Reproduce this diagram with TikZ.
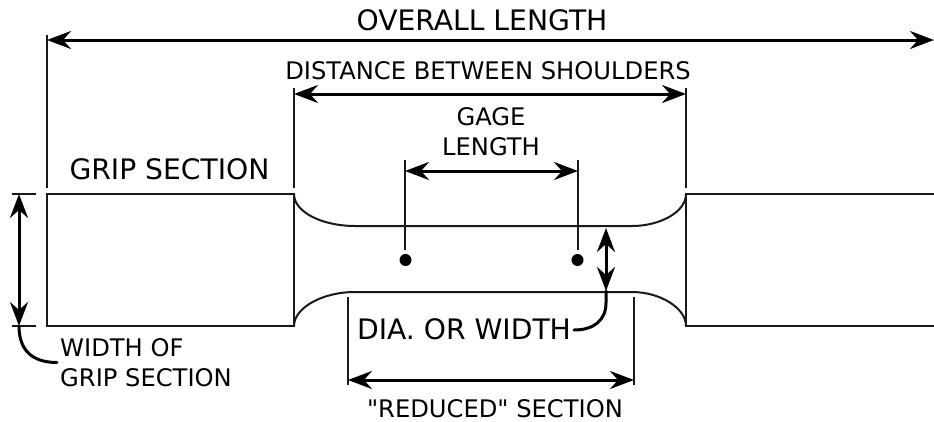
\documentclass[tikz,border=0pt]{standalone}
\usepackage{fontspec}
\newfontfamily\dvs{DejaVu Sans}
\usetikzlibrary{arrows.meta}
\tikzset{
  x=1pt,y=-1pt,
  thin line/.style={line width=1.8pt,black!90},
  shape line/.style={line width=2pt,black!90},
  dim/.style={line width=3pt,{Stealth[length=24pt,width=18pt,inset=8pt]}-{Stealth[length=24pt,width=18pt,inset=8pt]}},
  lead/.style={line width=3pt,line cap=round},
  big/.style={inner sep=0pt,anchor=base,font=\dvs\fontsize{28.2}{28.2}\selectfont},
  mid/.style={inner sep=0pt,anchor=base,font=\dvs\fontsize{24.2}{24.2}\selectfont},
  spot/.style={circle,fill=black,inner sep=0pt,minimum size=12pt},
}
\begin{document}
\begin{tikzpicture}
\useasboundingbox (0,0) rectangle (934,421);
% coordinates
\coordinate (ovL) at (47,40); \coordinate (ovR) at (934,40);
\coordinate (ovT) at (47,35); \coordinate (ovB) at (47,188);
\coordinate (shL) at (294,88); \coordinate (shLb) at (294,188);
\coordinate (shR) at (686,88); \coordinate (shRb) at (686,188);
\coordinate (dL) at (294,94); \coordinate (dR) at (686,94);
\coordinate (gL) at (405,171); \coordinate (gR) at (578,171);
\coordinate (gLt) at (405,160); \coordinate (gRt) at (578,160);
\coordinate (gLb) at (405,250); \coordinate (gRb) at (578,250);
\coordinate (wT) at (19,194); \coordinate (wB) at (19,326);
\coordinate (tT1) at (12,194); \coordinate (tT2) at (36,194);
\coordinate (tB1) at (12,326); \coordinate (tB2) at (36,326);
\coordinate (wEnd) at (57,362.5);
\coordinate (iT) at (606,228); \coordinate (iB) at (606,291);
\coordinate (iEnd) at (574,330);
\coordinate (rL) at (348,380); \coordinate (rR) at (634,380);
\coordinate (rLt) at (348,297); \coordinate (rLb) at (348,385);
\coordinate (rRt) at (634,297); \coordinate (rRb) at (634,385);
% specimen
\draw[shape line,line join=miter] (294,194) -- (47,194) -- (47,326) -- (294,326) -- cycle;
\draw[shape line] (934,194) -- (686,194) -- (686,326) -- (934,326);
\draw[shape line] (294,194) .. controls (294,212) and (322,226) .. (355,226) -- (632,226) .. controls (660,226) and (686,212) .. (686,194);
\draw[shape line] (294,326) .. controls (294,308) and (322,292) .. (355,292) -- (632,292) .. controls (660,292) and (686,308) .. (686,326);
% extension lines
\draw[thin line] (ovT) -- (ovB);
\draw[thin line] (shL) -- (shLb);
\draw[thin line] (shR) -- (shRb);
\draw[thin line] (tT1) -- (tT2);
\draw[thin line] (tB1) -- (tB2);
\draw[thin line] (rLt) -- (rLb);
\draw[thin line] (rRt) -- (rRb);
% gauge marks
\node[spot] (d1) at (405.5,260) {};
\node[spot] (d2) at (577.5,260) {};
\draw[thin line] (gLt) -- (gLb);
\draw[thin line] (gRt) -- (gRb);
% dimension arrows
\draw[dim] (ovL) -- (ovR);
\draw[dim] (dL) -- (dR);
\draw[dim] (gL) -- (gR);
\draw[dim] (wT) -- (wB);
\draw[dim] (iT) -- (iB);
\draw[dim] (rL) -- (rR);
% leaders
\draw[lead] (wB) .. controls (19,350) and (32,362.5) .. (wEnd);
\draw[lead] (iB) -- (606,303) .. controls (606,320) and (594,330) .. (iEnd);
% labels
\node[big] (overall) at (482,30) {OVERALL LENGTH};
\node[mid] (dist) at (488,79) {DISTANCE BETWEEN SHOULDERS};
\node[mid] (gage) at (491,125) {GAGE};
\node[mid] (len) at (491,155) {LENGTH};
\node[big] (grip) at (169.5,179) {GRIP SECTION};
\node[big] (dia) at (464,339) {DIA. OR WIDTH};
\node[mid,anchor=base west] (wof) at (60,356) {WIDTH OF};
\node[mid,anchor=base west] (gsec) at (60,386) {GRIP SECTION};
\node[mid] (red) at (495,417) {"REDUCED" SECTION};
\end{tikzpicture}
\end{document}
